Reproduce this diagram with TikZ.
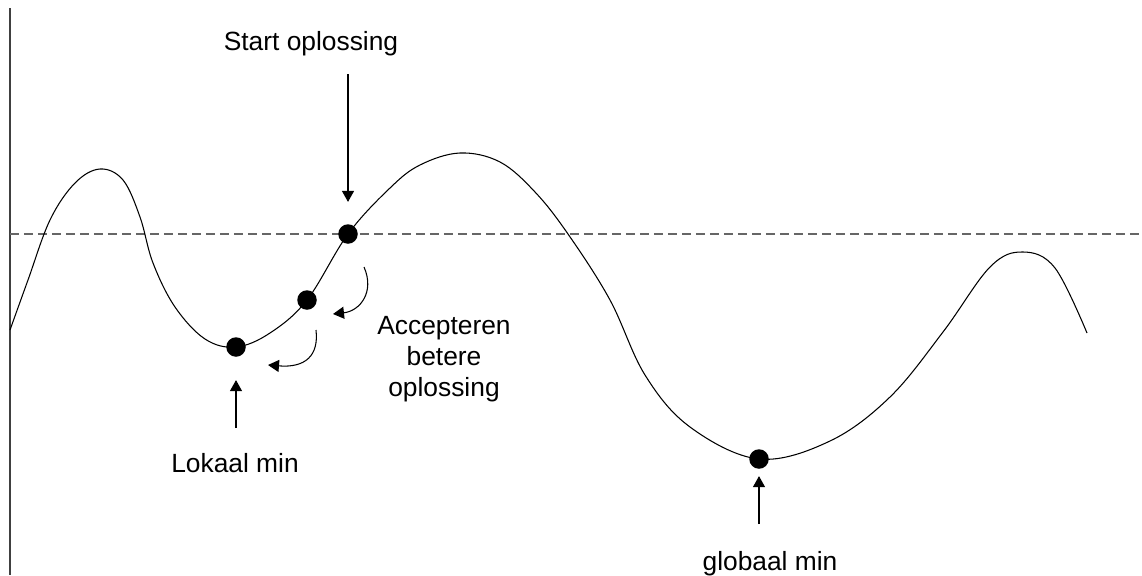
\documentclass[tikz,border=0pt]{standalone}
\usepackage{fontspec}
\setmainfont{Liberation Sans}
\usetikzlibrary{arrows.meta,positioning}

\tikzset{
	punt/.style={circle,fill=black,inner sep=0pt,minimum size=0.39cm},
	pijl/.style={-{Triangle[length=0.22cm,width=0.24cm]},line width=0.6pt},
	tekst/.style={font=\fontsize{15}{17.6}\selectfont,inner sep=0pt}
}

\begin{document}
\begin{tikzpicture}[x=0.02cm,y=-0.02cm]
	\useasboundingbox (0,0) rectangle (1142,575);
	% assen
	\draw[line width=0.7pt,black!75] (10,8) -- (10,575);
	\draw[line width=1pt,black!60,dash pattern=on 0.18cm off 0.1cm] (10,234) -- (1142,234);
	% kostenfunctie
	\draw[line width=0.6pt] plot[smooth,tension=0.6] coordinates {
		(10,330) (28,280) (50,220) (75,183) (100,169) (123,180) (140,217)
		(153,263) (175,307) (205,339) (236,347) (270,333) (307,300) (348,234)
		(390,188) (420,165) (460,153) (500,162) (535,192) (568,234) (610,300)
		(645,375) (690,427) (759,459) (830,441) (890,397) (943,332) (990,267)
		(1023,252) (1055,268) (1087,333)};
	% oplossingen
	\node[punt] (start) at (348,234) {};
	\node[punt] (stap) at (307,300) {};
	\node[punt] (lokaal) at (236,347) {};
	\node[punt] (globaal) at (759,459) {};
	% teksten
	\node[tekst,anchor=base] (starttxt) at (311,50) {Start oplossing};
	\node[tekst,anchor=north,align=center] (accept) at (444,316) {Accepteren\\betere\\oplossing};
	\node[tekst,anchor=base] (lokaaltxt) at (235,472) {Lokaal min};
	\node[tekst,anchor=base] (globaaltxt) at (770,570) {globaal min};
	% pijlen
	\coordinate (s0) at (348,74);
	\coordinate (l0) at (236,428);
	\coordinate (g0) at (759,524);
	\draw[pijl] (s0) -- ([yshift=0.44cm]start.north);
	\draw[pijl] (l0) -- ([yshift=-0.46cm]lokaal.south);
	\draw[pijl] (g0) -- ([yshift=-0.14cm]globaal.south);
	\coordinate (b1) at (364,267);
	\coordinate (e1) at (333,314);
	\coordinate (b2) at (316,330);
	\coordinate (e2) at (268,365);
	\draw[pijl] (b1) .. controls (375,292) and (360,311) .. (e1);
	\draw[pijl] (b2) .. controls (319,356) and (305,368) .. (e2);
\end{tikzpicture}
\end{document}
